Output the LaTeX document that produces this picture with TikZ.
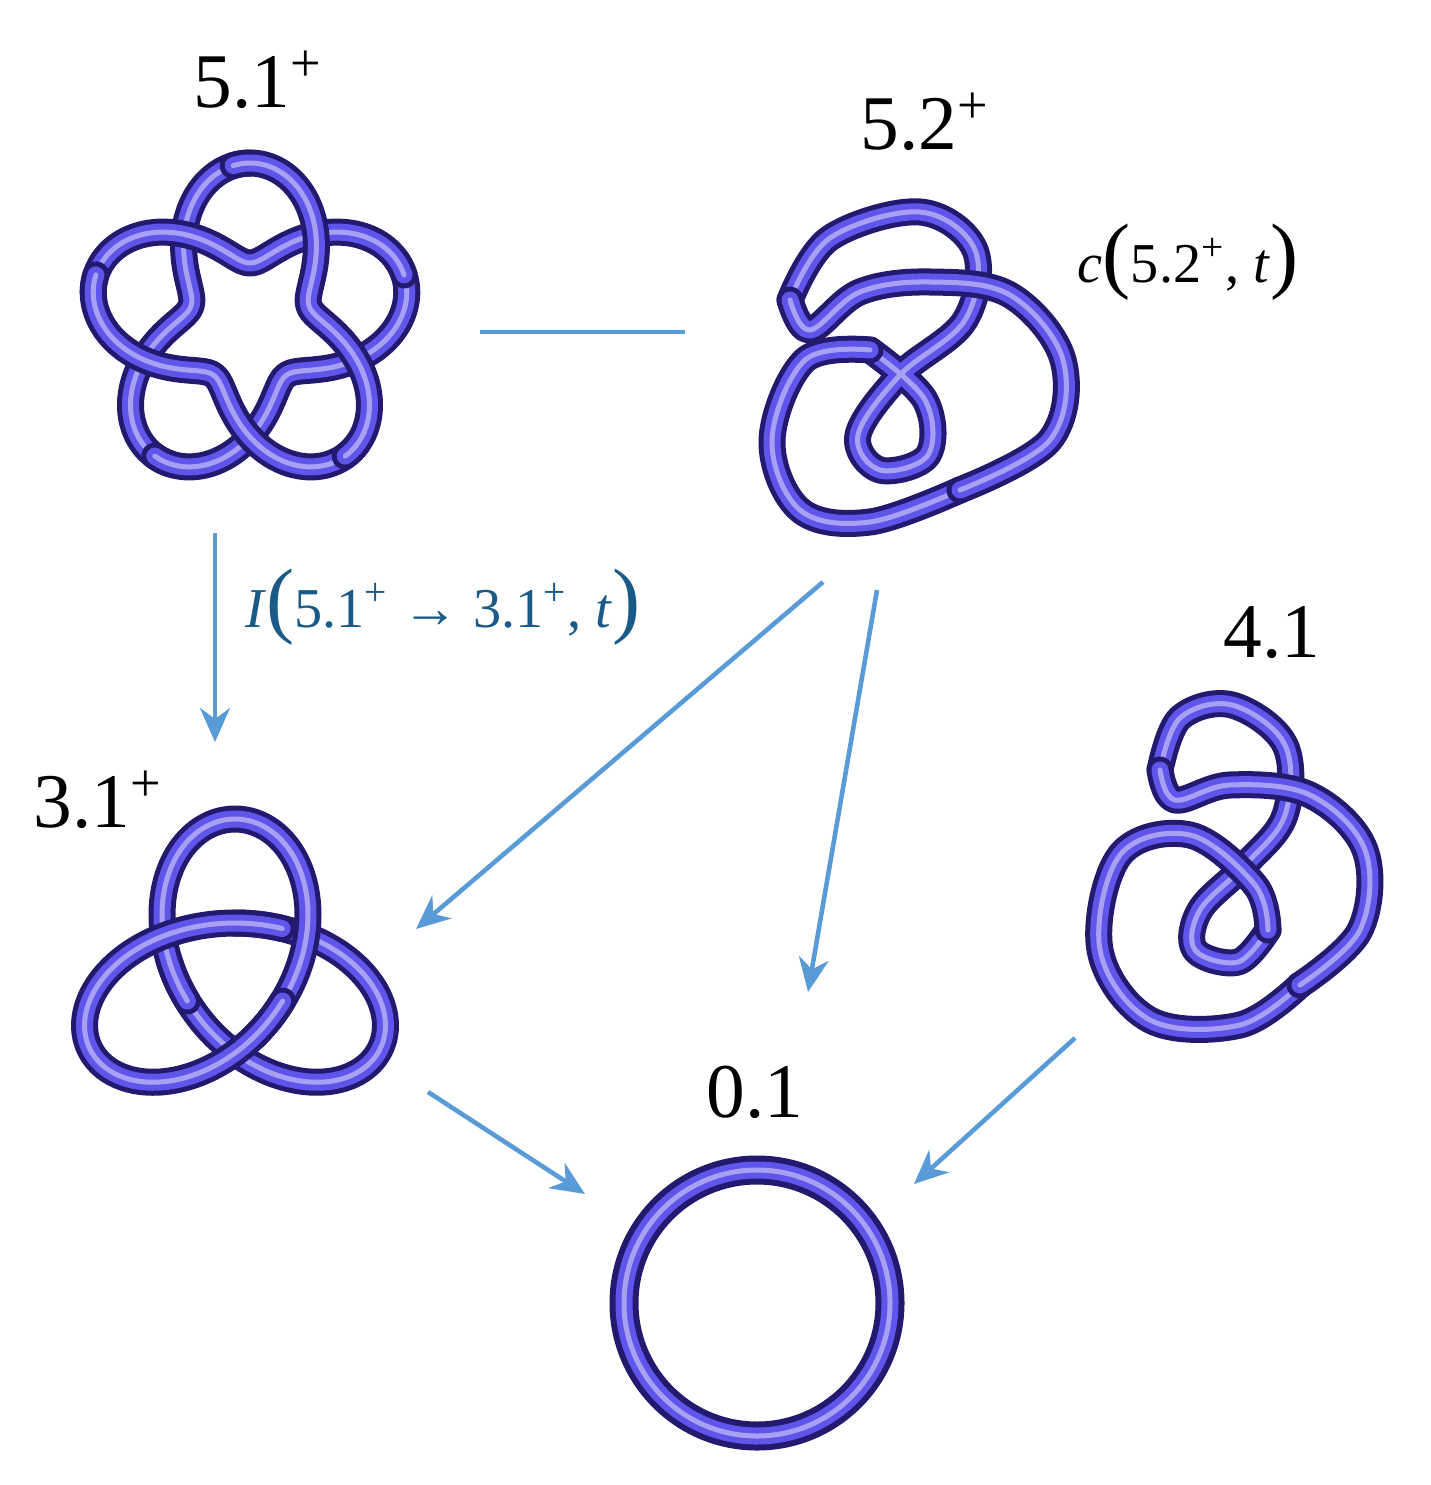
\documentclass[tikz,border=0pt]{standalone}
\usepackage{fontspec}
\setmainfont{Liberation Serif}
\usetikzlibrary{arrows.meta}
\definecolor{knot}{RGB}{95,85,235}
\definecolor{knotdark}{RGB}{35,25,110}
\definecolor{arr}{RGB}{88,155,215}
\definecolor{lab}{RGB}{25,90,135}
\tikzset{
 tube/.style={line width=0.27cm,draw=knotdark,line cap=round,line join=round,
   postaction={draw=knot,line width=0.17cm},
   postaction={draw=knot!55!white,line width=0.05cm}},
 conn/.style={draw=arr,line width=1.3pt,-{Stealth[length=0.34cm,width=0.3cm]}},
 plain/.style={draw=arr,line width=1.3pt},
 big/.style={font=\fontsize{22}{24}\selectfont},
 med/.style={font=\fontsize{16}{18}\selectfont}
}
\newcommand{\bp}[1]{{\fontsize{24}{24}\selectfont #1}}
\begin{document}
\begin{tikzpicture}[x=0.01cm,y=-0.01cm]
\useasboundingbox (0,0) rectangle (1430,1485);
% 5.1 cinquefoil
\begin{scope}[shift={(250,325)}]
\foreach \a/\b in {0/150,144/294,288/438,432/582,576/726}
 \draw[tube] plot[domain=\a:\b,samples=60,smooth,variable=\t]
   ({(112+50*cos(2.5*\t))*cos(\t+90)},{-(112+50*cos(2.5*\t))*sin(\t+90)});
\end{scope}
% 3.1 trefoil
\begin{scope}[shift={(235,965)}]
\foreach \a/\b in {0/130,120/250,240/370}
 \draw[tube] plot[domain=\a:\b,samples=60,smooth,variable=\t]
   ({55*(sin(\t)+2*sin(2*\t))},{52*(cos(\t)-2*cos(2*\t))+10});
\end{scope}
% 4.1 figure eight
\draw[tube] plot[smooth,tension=0.6] coordinates{(1160,770)(1180,718)(1232,705)(1285,745)(1285,815)(1245,865)(1200,910)(1195,950)(1238,962)(1268,930)};
\draw[tube] plot[smooth,tension=0.6] coordinates{(1268,930)(1255,885)(1190,835)(1120,855)(1100,950)(1150,1020)(1240,1025)(1300,985)};
\draw[tube] plot[smooth,tension=0.6] coordinates{(1300,985)(1360,930)(1365,850)(1310,795)(1230,785)(1175,800)(1160,770)};
% 5.2
\draw[tube] plot[smooth,tension=0.6] coordinates{(790,300)(830,238)(920,212)(975,250)(965,320)(900,375)(858,435)(880,470)(928,455)(925,400)(870,350)};
\draw[tube] plot[smooth,tension=0.6] coordinates{(870,350)(805,360)(772,440)(800,510)(870,522)(960,490)};
\draw[tube] plot[smooth,tension=0.6] coordinates{(960,490)(1050,440)(1063,360)(1010,295)(930,282)(860,292)(810,330)(790,300)};
% unknot
\draw[tube,line width=0.29cm] (757,1303) circle (133);
% labels
\node[big] (l51) at (258,80) {5.1\textsuperscript{+}};
\node[big] (l52) at (925,122) {5.2\textsuperscript{+}};
\node[big] (l41) at (1272,633) {4.1};
\node[big] (l31) at (98,800) {3.1\textsuperscript{+}};
\node[big] (l01) at (755,1092) {0.1};
\node[med] (lc) at (1188,262) {\textit{c}\bp{(}5.2\textsuperscript{+}, \textit{t}\bp{)}};
\node[med,text=lab] (li) at (443,607) {\textit{I}\bp{(}5.1\textsuperscript{+} → 3.1\textsuperscript{+}, \textit{t}\bp{)}};
% connectors
\coordinate (a1) at (215,533); \coordinate (b1) at (215,742);
\coordinate (a2) at (480,332); \coordinate (b2) at (685,332);
\coordinate (a3) at (823,582); \coordinate (b3) at (416,929);
\coordinate (a4) at (877,590); \coordinate (b4) at (808,992);
\coordinate (a5) at (428,1092); \coordinate (b5) at (585,1194);
\coordinate (a6) at (1075,1038); \coordinate (b6) at (914,1184);
\draw[conn] (a1) -- (b1);
\draw[plain] (a2) -- (b2);
\draw[conn] (a3) -- (b3);
\draw[conn] (a4) -- (b4);
\draw[conn] (a5) -- (b5);
\draw[conn] (a6) -- (b6);
\end{tikzpicture}
\end{document}
